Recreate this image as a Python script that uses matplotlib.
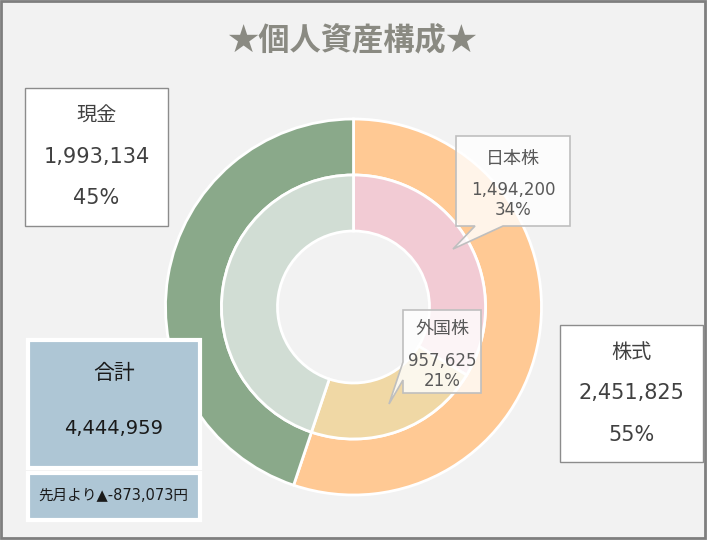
import matplotlib
matplotlib.use("Agg")
import matplotlib.pyplot as plt
from matplotlib.patches import Rectangle, Polygon

plt.rcParams['font.family'] = ['Noto Sans CJK JP', 'DejaVu Sans']
NUMF = ['DejaVu Sans', 'Noto Sans CJK JP']

# ---- data ----
title = "★個人資産構成★"
outer_labels = ["株式", "現金"]
outer_values = [2451825, 1993134]
outer_pct = ["55%", "45%"]
inner_labels = ["日本株", "外国株", "現金"]
inner_values = [1494200, 957625, 1993134]
inner_pct = ["34%", "21%", "45%"]
total_label = "合計"
total_value = 4444959
diff_text = "先月より▲-873,073円"

outer_colors = ["#FFC994", "#8AA98A"]
inner_colors = ["#F2CBD4", "#F0D8A5", "#D1DDD4"]

W, H = 707, 540
fig = plt.figure(figsize=(W / 100, H / 100), dpi=100)
fig.patch.set_facecolor("#F2F2F2")
ax = fig.add_axes([0, 0, 1, 1])
ax.set_facecolor("#F2F2F2")

cx, cy = 353.5, 307
R_out, R_mid, R_in = 188, 132, 76

ax.pie(outer_values, radius=R_out, center=(cx, cy), colors=outer_colors,
       startangle=-90, counterclock=True,
       wedgeprops=dict(width=R_out - R_mid, edgecolor="white", linewidth=2))
ax.pie(inner_values, radius=R_mid, center=(cx, cy), colors=inner_colors,
       startangle=-90, counterclock=True,
       wedgeprops=dict(width=R_mid - R_in, edgecolor="white", linewidth=2))

ax.set_xlim(0, W)
ax.set_ylim(H, 0)
ax.set_aspect("equal")
ax.axis("off")

# outer border
ax.add_patch(Rectangle((1, 1), W - 3, H - 3, fill=False, edgecolor="#7F7F7F", linewidth=2))

# title
ax.text(353, 41, title, ha="center", va="center", fontsize=22.5, fontweight="bold", color="#8A8A82")

# 現金 box
ax.add_patch(Rectangle((25, 88), 143, 138, facecolor="white", edgecolor="#8C8C8C", linewidth=1))
bx = 96.5
ax.text(bx, 116, outer_labels[1], ha="center", va="center", fontsize=14.5, color="#404040")
ax.text(bx, 157, f"{outer_values[1]:,}", ha="center", va="center", fontsize=15, color="#404040", family=NUMF)
ax.text(bx, 198, outer_pct[1], ha="center", va="center", fontsize=15, color="#404040", family=NUMF)

# 株式 box
ax.add_patch(Rectangle((560, 325), 143, 137, facecolor="white", edgecolor="#8C8C8C", linewidth=1))
bx = 631.5
ax.text(bx, 352, outer_labels[0], ha="center", va="center", fontsize=14.5, color="#404040")
ax.text(bx, 393, f"{outer_values[0]:,}", ha="center", va="center", fontsize=15, color="#404040", family=NUMF)
ax.text(bx, 435, outer_pct[0], ha="center", va="center", fontsize=15, color="#404040", family=NUMF)

# 日本株 callout
pts = [(456, 136), (570, 136), (570, 226), (503, 226), (453, 249), (475, 226), (456, 226)]
ax.add_patch(Polygon(pts, closed=True, facecolor=(1, 1, 1, 0.8), edgecolor="#BFBFBF", linewidth=1.2))
bx = 513
ax.text(bx, 159, inner_labels[0], ha="center", va="center", fontsize=13, color="#595959")
ax.text(bx, 190, f"{inner_values[0]:,}", ha="center", va="center", fontsize=12, color="#595959", family=NUMF)
ax.text(bx, 210, inner_pct[0], ha="center", va="center", fontsize=12, color="#595959", family=NUMF)

# 外国株 callout
pts = [(403, 310), (481, 310), (481, 393), (403, 393), (403, 380), (389, 404), (403, 362)]
ax.add_patch(Polygon(pts, closed=True, facecolor=(1, 1, 1, 0.8), edgecolor="#BFBFBF", linewidth=1.2))
bx = 442
ax.text(bx, 329, inner_labels[1], ha="center", va="center", fontsize=13, color="#595959")
ax.text(bx, 361, f"{inner_values[1]:,}", ha="center", va="center", fontsize=12, color="#595959", family=NUMF)
ax.text(bx, 381, inner_pct[1], ha="center", va="center", fontsize=12, color="#595959", family=NUMF)

# 合計 box
ax.add_patch(Rectangle((28, 340), 172, 128, facecolor="#AEC6D5", edgecolor="white", linewidth=3))
ax.text(114, 373, total_label, ha="center", va="center", fontsize=15, color="#1A1A1A")
ax.text(114, 428, f"{total_value:,}", ha="center", va="center", fontsize=14, color="#1A1A1A", family=NUMF)

ax.add_patch(Rectangle((28, 473), 172, 47, facecolor="#AEC6D5", edgecolor="white", linewidth=3))
ax.text(113, 496, diff_text, ha="center", va="center", fontsize=10.5, color="#1A1A1A", family=NUMF)

fig.savefig("out.png", dpi=100, facecolor=fig.get_facecolor())
